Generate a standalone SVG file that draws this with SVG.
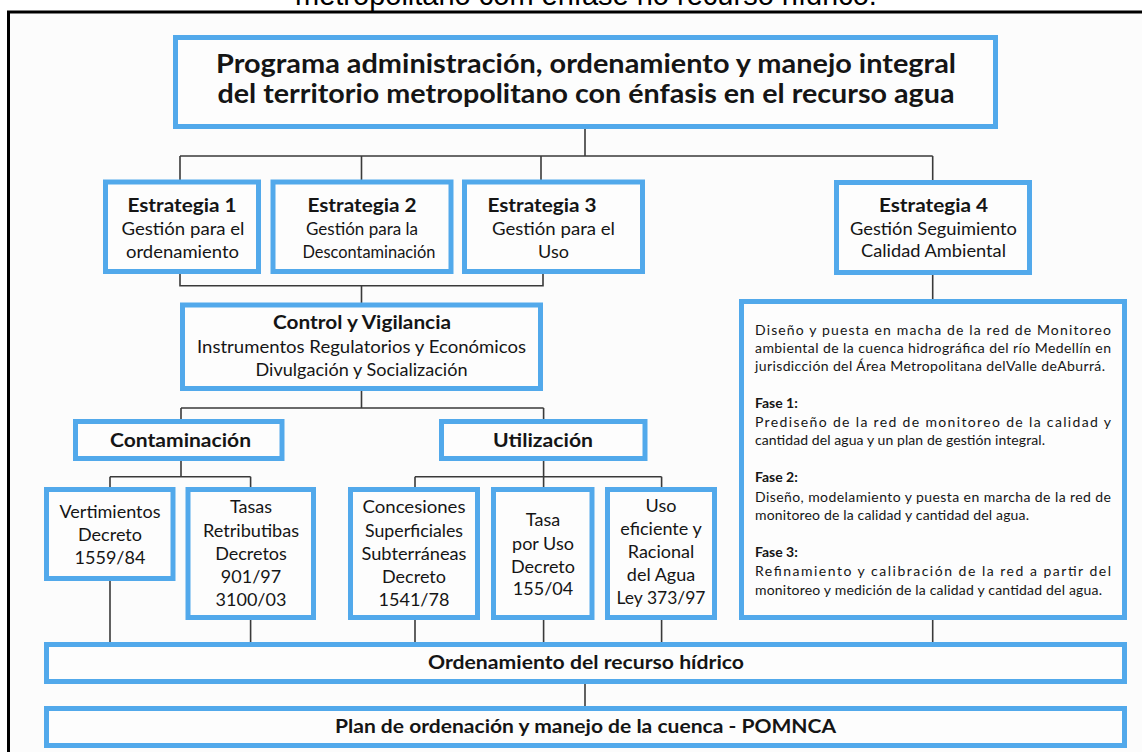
<svg xmlns="http://www.w3.org/2000/svg" width="1142" height="752" viewBox="0 0 1142 752">
<style>
.box{fill:#FDFDFD;stroke:#52A9EB;stroke-width:5}
.c{fill:none;stroke:#3A3A3A;stroke-width:1.6}
text{font-family:Lato,"Open Sans","DejaVu Sans",sans-serif;fill:#151515}
.t{font-size:26px;font-weight:bold;text-anchor:middle}
.h{font-size:18px;font-weight:bold;text-anchor:middle}
.n{font-size:18px;text-anchor:middle}
.d{font-size:14px}
.db{font-size:14px;font-weight:bold}
</style>
<rect width="1142" height="752" fill="#FFFFFF"/>
<text x="295" y="5" style="font-family:'Liberation Sans',Arial,sans-serif;font-size:29px;fill:#000">metropolitano com ênfase no recurso hídrico.</text>
<rect x="8.5" y="12" width="1200" height="800" fill="#FCFCFC" stroke="#000" stroke-width="3"/>

<g id="connectors">
<path class="c" d="M585 129V156M180 156H932.7M180 156V180M361.5 156V180M541 156V180M932.7 156V180"/>
<path class="c" d="M180 274V285.7H543V274M361.5 285.7V303"/>
<path class="c" d="M361.5 391V408M181 408H543.6M181 408V419M543.6 408V419"/>
<path class="c" d="M181 461V476.7M110 476.7H250.6M110 476.7V487M250.6 476.7V487"/>
<path class="c" d="M543.6 461V476.7M415 476.7H661.6M415 476.7V487M543.6 476.7V487M661.6 476.7V487"/>
<path class="c" d="M932.7 275V299"/>
<path class="c" d="M110 581V642M250.6 620V642M415 620V642M543.6 620V642M661.6 620V642M932.7 620V642"/>
<path class="c" d="M585 684V706"/>
</g>

<g id="programa">
<rect class="box" x="175.5" y="37.5" width="820" height="89"/>
<text class="t" x="586" y="72.5" textLength="740" lengthAdjust="spacingAndGlyphs">Programa administración, ordenamiento y manejo integral</text>
<text class="t" x="586" y="103" textLength="737" lengthAdjust="spacingAndGlyphs">del territorio metropolitano con énfasis en el recurso agua</text>
</g>

<g id="estrategia1">
<rect class="box" x="105.5" y="182" width="153" height="89.5"/>
<text class="h" x="182" y="212" textLength="109" lengthAdjust="spacingAndGlyphs">Estrategia 1</text>
<text class="n" x="183" y="235" textLength="123" lengthAdjust="spacingAndGlyphs">Gestión para el</text>
<text class="n" x="182.5" y="257.5" textLength="113" lengthAdjust="spacingAndGlyphs">ordenamiento</text>
</g>
<g id="estrategia2">
<rect class="box" x="273" y="182" width="178" height="89.5"/>
<text class="h" x="362" y="212" textLength="109" lengthAdjust="spacingAndGlyphs">Estrategia 2</text>
<text class="n" x="362" y="235" textLength="112" lengthAdjust="spacingAndGlyphs">Gestión para la</text>
<text class="n" x="369" y="257.5" textLength="133" lengthAdjust="spacingAndGlyphs">Descontaminación</text>
</g>
<g id="estrategia3">
<rect class="box" x="464.5" y="182" width="178" height="89.5"/>
<text class="h" x="542" y="212" textLength="109" lengthAdjust="spacingAndGlyphs">Estrategia 3</text>
<text class="n" x="553.5" y="235" textLength="123" lengthAdjust="spacingAndGlyphs">Gestión para el</text>
<text class="n" x="553.5" y="257.5">Uso</text>
</g>
<g id="estrategia4">
<rect class="box" x="836.5" y="182.5" width="193" height="90"/>
<text class="h" x="933.5" y="211.5" textLength="109" lengthAdjust="spacingAndGlyphs">Estrategia 4</text>
<text class="n" x="933.5" y="234.5" textLength="167" lengthAdjust="spacingAndGlyphs">Gestión Seguimiento</text>
<text class="n" x="933.5" y="257" textLength="145" lengthAdjust="spacingAndGlyphs">Calidad Ambiental</text>
</g>

<g id="control">
<rect class="box" x="182.5" y="305" width="358" height="83.5"/>
<text class="h" x="362" y="329" textLength="178" lengthAdjust="spacingAndGlyphs">Control y Vigilancia</text>
<text class="n" x="361.5" y="353" textLength="329" lengthAdjust="spacingAndGlyphs">Instrumentos Regulatorios y Económicos</text>
<text class="n" x="361.5" y="376" textLength="212" lengthAdjust="spacingAndGlyphs">Divulgación y Socialización</text>
</g>

<g id="contaminacion">
<rect class="box" x="75.5" y="421.5" width="206.5" height="37"/>
<text class="h" x="180.5" y="447" textLength="141" lengthAdjust="spacingAndGlyphs">Contaminación</text>
</g>
<g id="utilizacion">
<rect class="box" x="441.5" y="421.5" width="203.5" height="37"/>
<text class="h" x="543" y="447" textLength="100" lengthAdjust="spacingAndGlyphs">Utilización</text>
</g>

<g id="vertimientos">
<rect class="box" x="46.5" y="489.5" width="126.5" height="89"/>
<text class="n" x="110" y="517.5" textLength="101" lengthAdjust="spacingAndGlyphs">Vertimientos</text>
<text class="n" x="110" y="541">Decreto</text>
<text class="n" x="110" y="564">1559/84</text>
</g>
<g id="tasas">
<rect class="box" x="188" y="489.5" width="125.5" height="128"/>
<text class="n" x="251" y="513">Tasas</text>
<text class="n" x="251" y="537" textLength="96" lengthAdjust="spacingAndGlyphs">Retributibas</text>
<text class="n" x="251" y="560">Decretos</text>
<text class="n" x="251" y="583">901/97</text>
<text class="n" x="251" y="606">3100/03</text>
</g>
<g id="concesiones">
<rect class="box" x="350.5" y="489.5" width="127" height="128"/>
<text class="n" x="414" y="513" textLength="103" lengthAdjust="spacingAndGlyphs">Concesiones</text>
<text class="n" x="414" y="537" textLength="98" lengthAdjust="spacingAndGlyphs">Superficiales</text>
<text class="n" x="414" y="560" textLength="105" lengthAdjust="spacingAndGlyphs">Subterráneas</text>
<text class="n" x="414" y="583">Decreto</text>
<text class="n" x="414" y="606">1541/78</text>
</g>
<g id="tasauso">
<rect class="box" x="493.5" y="489.5" width="98.5" height="128"/>
<text class="n" x="543" y="526">Tasa</text>
<text class="n" x="543" y="549.5">por Uso</text>
<text class="n" x="543" y="572.5">Decreto</text>
<text class="n" x="543" y="594.5">155/04</text>
</g>
<g id="usoeficiente">
<rect class="box" x="607.5" y="489.5" width="107" height="128"/>
<text class="n" x="661" y="512">Uso</text>
<text class="n" x="661" y="535">eficiente y</text>
<text class="n" x="661" y="558">Racional</text>
<text class="n" x="661" y="581">del Agua</text>
<text class="n" x="661" y="604" textLength="89" lengthAdjust="spacingAndGlyphs">Ley 373/97</text>
</g>

<g id="monitoreo">
<rect class="box" x="741.5" y="301.5" width="383" height="316"/>
<text class="d" x="755" y="334.5" textLength="356" lengthAdjust="spacing">Diseño y puesta en macha de la red de Monitoreo</text>
<text class="d" x="755" y="352.5" textLength="356" lengthAdjust="spacing">ambiental de la cuenca hidrográfica del río Medellín en</text>
<text class="d" x="755" y="370.5" textLength="350" lengthAdjust="spacing">jurisdicción del Área Metropolitana delValle deAburrá.</text>
<text class="db" x="755" y="408">Fase 1:</text>
<text class="d" x="755" y="427" textLength="356" lengthAdjust="spacing">Prediseño de la red de monitoreo de la calidad y</text>
<text class="d" x="755" y="445" textLength="290" lengthAdjust="spacing">cantidad del agua y un plan de gestión integral.</text>
<text class="db" x="755" y="482">Fase 2:</text>
<text class="d" x="755" y="501.5" textLength="356" lengthAdjust="spacing">Diseño, modelamiento y puesta en marcha de la red de</text>
<text class="d" x="755" y="519.5" textLength="274" lengthAdjust="spacing">monitoreo de la calidad y cantidad del agua.</text>
<text class="db" x="755" y="557">Fase 3:</text>
<text class="d" x="755" y="576" textLength="356" lengthAdjust="spacing">Refinamiento y calibración de la red a partir del</text>
<text class="d" x="755" y="594.5" textLength="347" lengthAdjust="spacing">monitoreo y medición de la calidad y cantidad del agua.</text>
</g>

<g id="ordenamiento">
<rect class="box" x="46.5" y="644.5" width="1078" height="37"/>
<text class="h" x="586" y="669" textLength="316" lengthAdjust="spacingAndGlyphs">Ordenamiento del recurso hídrico</text>
</g>
<g id="pomnca">
<rect class="box" x="46.5" y="708.5" width="1078" height="37"/>
<text class="h" x="585.5" y="732.5" textLength="501" lengthAdjust="spacingAndGlyphs">Plan de ordenación y manejo de la cuenca - POMNCA</text>
</g>
</svg>
